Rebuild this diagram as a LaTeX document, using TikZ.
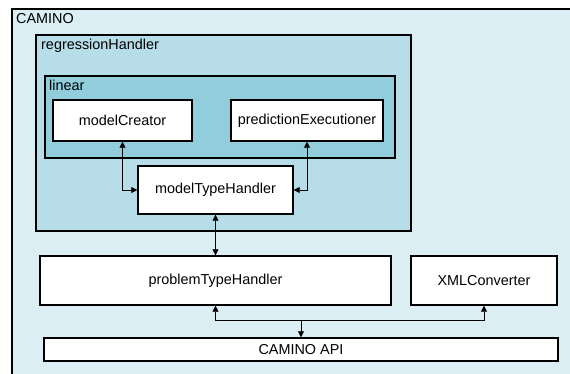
\documentclass[tikz,border=0pt]{standalone}
\usepackage{fontspec}
\setmainfont{Liberation Sans}
\usetikzlibrary{arrows.meta,fit}
\definecolor{outerfill}{HTML}{DAEEF3}
\definecolor{midfill}{HTML}{B6DDE8}
\definecolor{innerfill}{HTML}{92CDDC}
\tikzset{
  frame/.style={draw=black, line width=1.4pt, inner sep=0pt},
  compbox/.style={frame, fill=white, font=\fontsize{14.4}{17}\selectfont},
  tag/.style={anchor=north west, inner sep=0pt, font=\fontsize{14.4}{17}\selectfont},
  link/.style={draw=black, line width=0.8pt, {Triangle[length=6pt,width=6pt]}-{Triangle[length=6pt,width=6pt]}},
  onelink/.style={draw=black, line width=0.8pt, -{Triangle[length=6pt,width=6pt]}}
}
\begin{document}
\begin{tikzpicture}[x=1pt,y=-1pt]
\useasboundingbox (0,0) rectangle (570,374);
\fill[white] (0,0) rectangle (570,374);
\clip (0,0) rectangle (570,374);

% containers
\node[frame, fill=outerfill, fit={(12,9)(580,384)}] (camino) {};
\node[tag] (caminoLabel) at (16,13) {CAMINO};
\node[frame, fill=midfill, fit={(36,35)(411,231)}] (regression) {};
\node[tag] (regressionLabel) at (41,39) {regressionHandler};
\node[frame, fill=innerfill, fit={(45,76)(395,158)}] (linear) {};
\node[tag] (linearLabel) at (49,80) {linear};

% components
\node[compbox, minimum width=139pt, minimum height=41pt] (modelCreator) at (122.5,120.5) {modelCreator};
\node[compbox, minimum width=152pt, minimum height=41pt] (predictionExecutioner) at (307,120.5) {predictionExecutioner};
\node[compbox, minimum width=155pt, minimum height=48pt] (modelTypeHandler) at (215.5,190) {modelTypeHandler};
\node[compbox, minimum width=351pt, minimum height=49pt] (problemTypeHandler) at (215.5,280.5) {problemTypeHandler};
\node[compbox, minimum width=146pt, minimum height=49pt] (xmlConverter) at (484,280.5) {XMLConverter};
\node[compbox, minimum width=514pt, minimum height=23pt] (caminoAPI) at (301,349.5) {CAMINO API};

% connectors
\draw[link] (modelCreator.south) |- (modelTypeHandler.west);
\draw[link] (predictionExecutioner.south) |- (modelTypeHandler.east);
\draw[link] (modelTypeHandler.south) -- (problemTypeHandler.north);
\coordinate (bus) at (215.5,320);
\draw[link] (problemTypeHandler.south) -- (bus) -| (xmlConverter.south);
\draw[onelink] (caminoAPI.north |- bus) -- (caminoAPI.north);
\end{tikzpicture}
\end{document}
